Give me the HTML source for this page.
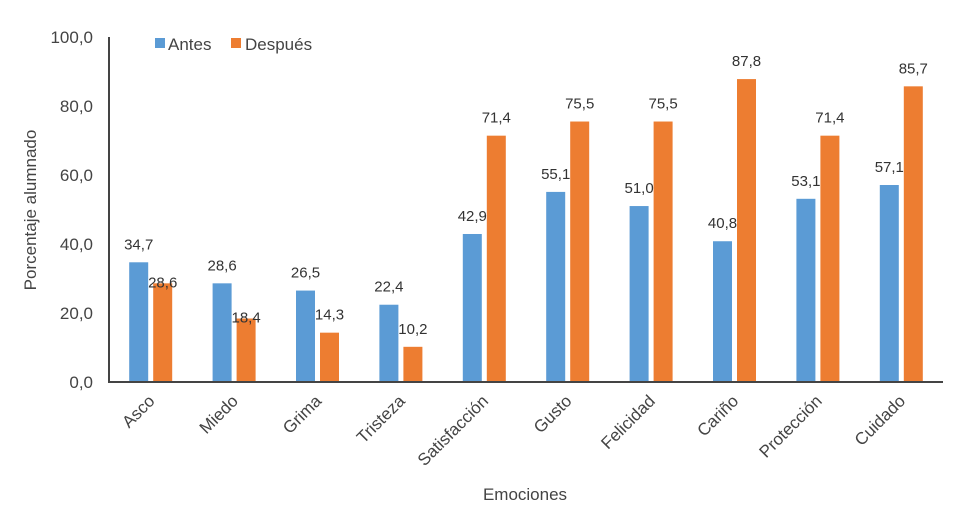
<!DOCTYPE html>
<html><head><meta charset="utf-8"><style>
body{margin:0;background:#fff;}
svg{font-family:"Liberation Sans",Arial,sans-serif;}
</style></head><body>
<svg id="c" width="970" height="507" xmlns="http://www.w3.org/2000/svg"></svg>
<script>
const categories=["Asco","Miedo","Grima","Tristeza","Satisfacción","Gusto","Felicidad","Cariño","Protección","Cuidado"];
const antes=[34.7,28.6,26.5,22.4,42.9,55.1,51.0,40.8,53.1,57.1];
const despues=[28.6,18.4,14.3,10.2,71.4,75.5,75.5,87.8,71.4,85.7];
const yTicks=[0,20,40,60,80,100];
const svg=document.getElementById('c');
const NS='http://www.w3.org/2000/svg';
const x0=109,x1=943,y0=382,yTop=37;
const y=v=>y0-(v/100)*(y0-yTop);
const band=(x1-x0)/categories.length;
const cx=i=>x0+band*(i+0.5);
const fmt=v=>v.toFixed(1).replace('.',',');
function mk(t,a,txt){const e=document.createElementNS(NS,t);for(const k in a)e.setAttribute(k,a[k]);if(txt!==undefined)e.textContent=txt;svg.appendChild(e);return e;}
yTicks.forEach(t=>{const e=mk('text',{x:93,y:y(t)+6,'text-anchor':'end','font-size':17,fill:'#444'},fmt(t));

});
categories.forEach((c,i)=>{
 const bw=19;
 const b1=mk('rect',{x:cx(i)-bw-2.5,y:y(antes[i]),width:bw,height:y0-y(antes[i]),fill:'#5b9bd5'});
 
 
 const b2=mk('rect',{x:cx(i)+2.5,y:y(despues[i]),width:bw,height:y0-y(despues[i]),fill:'#ed7d31'});
 
 
 const l1=mk('text',{x:cx(i)-bw/2-2.5,y:y(antes[i])-13,'text-anchor':'middle','font-size':15,fill:'#333'},fmt(antes[i]));
 
 
 let ly=y(despues[i])-13;
 if(Math.abs(ly-(y(antes[i])-13))<38) ly=y(despues[i])+4;
 const l2=mk('text',{x:cx(i)+bw/2+2.5,y:ly,'text-anchor':'middle','font-size':15,fill:'#333'},fmt(despues[i]));
 
 
 const px=cx(i)+5,py=402;
 const xl=mk('text',{x:px,y:py,'text-anchor':'end','font-size':17,fill:'#444',transform:`rotate(-45 ${px} ${py})`},c);
 
 
});
const ax=mk('line',{x1:x0,y1:y0,x2:x1,y2:y0,stroke:'#444','stroke-width':2});


const ay=mk('line',{x1:x0,y1:y0+1,x2:x0,y2:yTop,stroke:'#444','stroke-width':2});


const yt=mk('text',{x:36,y:210,'text-anchor':'middle','font-size':17,fill:'#444',transform:'rotate(-90 36 210)'},'Porcentaje alumnado');


const xt=mk('text',{x:525,y:500,'text-anchor':'middle','font-size':17,fill:'#444'},'Emociones');


const s1=mk('rect',{x:155,y:38,width:10,height:10,fill:'#5b9bd5'});


const t1=mk('text',{x:168,y:50,'font-size':17,fill:'#444'},'Antes');


const s2=mk('rect',{x:231,y:38,width:10,height:10,fill:'#ed7d31'});


const t2=mk('text',{x:245,y:50,'font-size':17,fill:'#444'},'Después');


</script>
</body></html>
